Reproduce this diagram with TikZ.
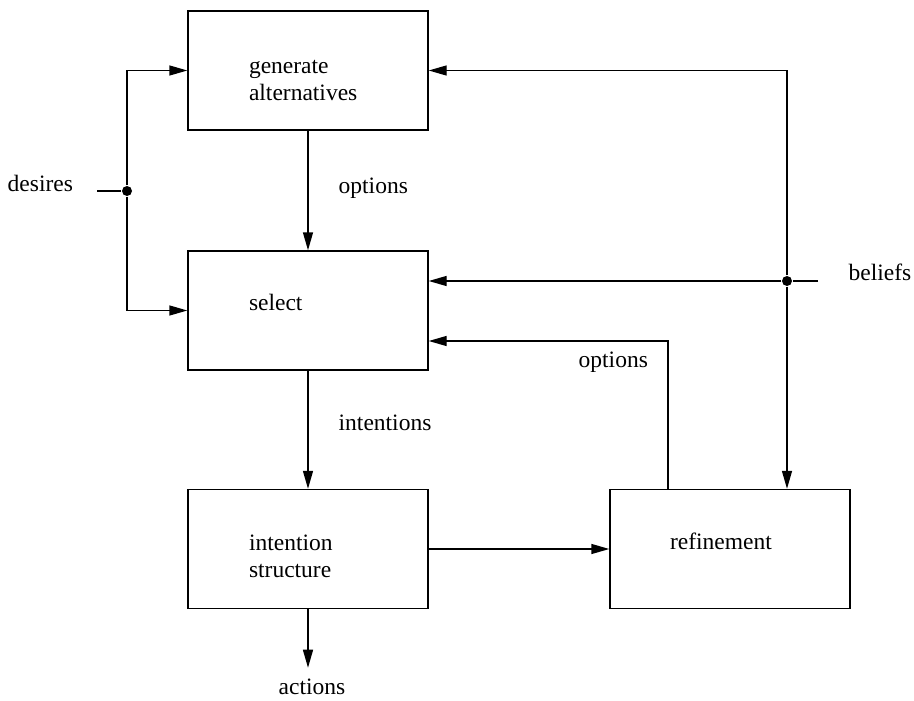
\documentclass[tikz,border=0pt]{standalone}
\usepackage{fontspec}
\setmainfont{Liberation Serif}
\usetikzlibrary{arrows.meta,positioning}

\begin{document}
\begin{tikzpicture}[x=1pt,y=-1pt,->,>={Triangle[length=18pt,width=10pt]},
                    line width=1.4pt,font=\fontsize{23.5}{27}\selectfont]
  \tikzstyle{block}=[draw,rectangle,minimum width=240pt,minimum height=119pt,inner sep=0pt]
  \tikzstyle{txt}=[anchor=base west,align=left,inner sep=0pt]
  \tikzstyle{dot}=[circle,fill,inner sep=0pt,minimum size=10pt]

  \useasboundingbox (0,0) rectangle (914,701);

  % boxes
  \node[block] (gen)  at (308,70.5)  {};
  \node[block] (sel)  at (308,310.5) {};
  \node[block] (ints) at (308,549)   {};
  \node[block] (ref)  at (730,549)   {};

  \node[txt] (gent)  at ([xshift=61pt,yshift=-90pt]gen.north west)  {generate\\alternatives};
  \node[txt] (selt)  at ([xshift=61pt,yshift=-60pt]sel.north west)  {select};
  \node[txt] (intst) at ([xshift=61pt,yshift=-89pt]ints.north west) {intention\\structure};
  \node[txt] (reft)  at ([xshift=60pt,yshift=-61pt]ref.north west)  {refinement};

  % inputs and outputs
  \node[txt] (des) at (7,191)   {desires};
  \node[txt] (bel) at (848,280) {beliefs};
  \node[txt] (act) at (278,694) {actions};
  \node[dot] (dd) at (127,191) {};
  \node[dot] (bd) at (787,281) {};
  \coordinate (din) at (97,191);
  \coordinate (bin) at (818,281);

  % labels
  \node[txt] (opt1) at (338,193) {options};
  \node[txt] (int1) at (338,430) {intentions};
  \node[txt] (opt2) at (578,367) {options};

  \draw[-] (din) -- (dd);
  \draw (dd) |- (gen);
  \draw (dd) |- (sel);
  \draw[-] (bin) -- (bd);
  \draw (bd) -- (sel.east |- bd);
  \draw (bd) |- (gen);
  \draw (bd) -- (bd |- ref.north);
  \draw (gen) -- (sel);
  \draw (sel) -- (ints);
  \draw (ints) -- (ref);
  \draw ([xshift=-62pt]ref.north) |- ([yshift=-30.5pt]sel.east);
  \draw (ints.south) -- ([yshift=10pt]act.north -| ints.south);
\end{tikzpicture}
\end{document}
